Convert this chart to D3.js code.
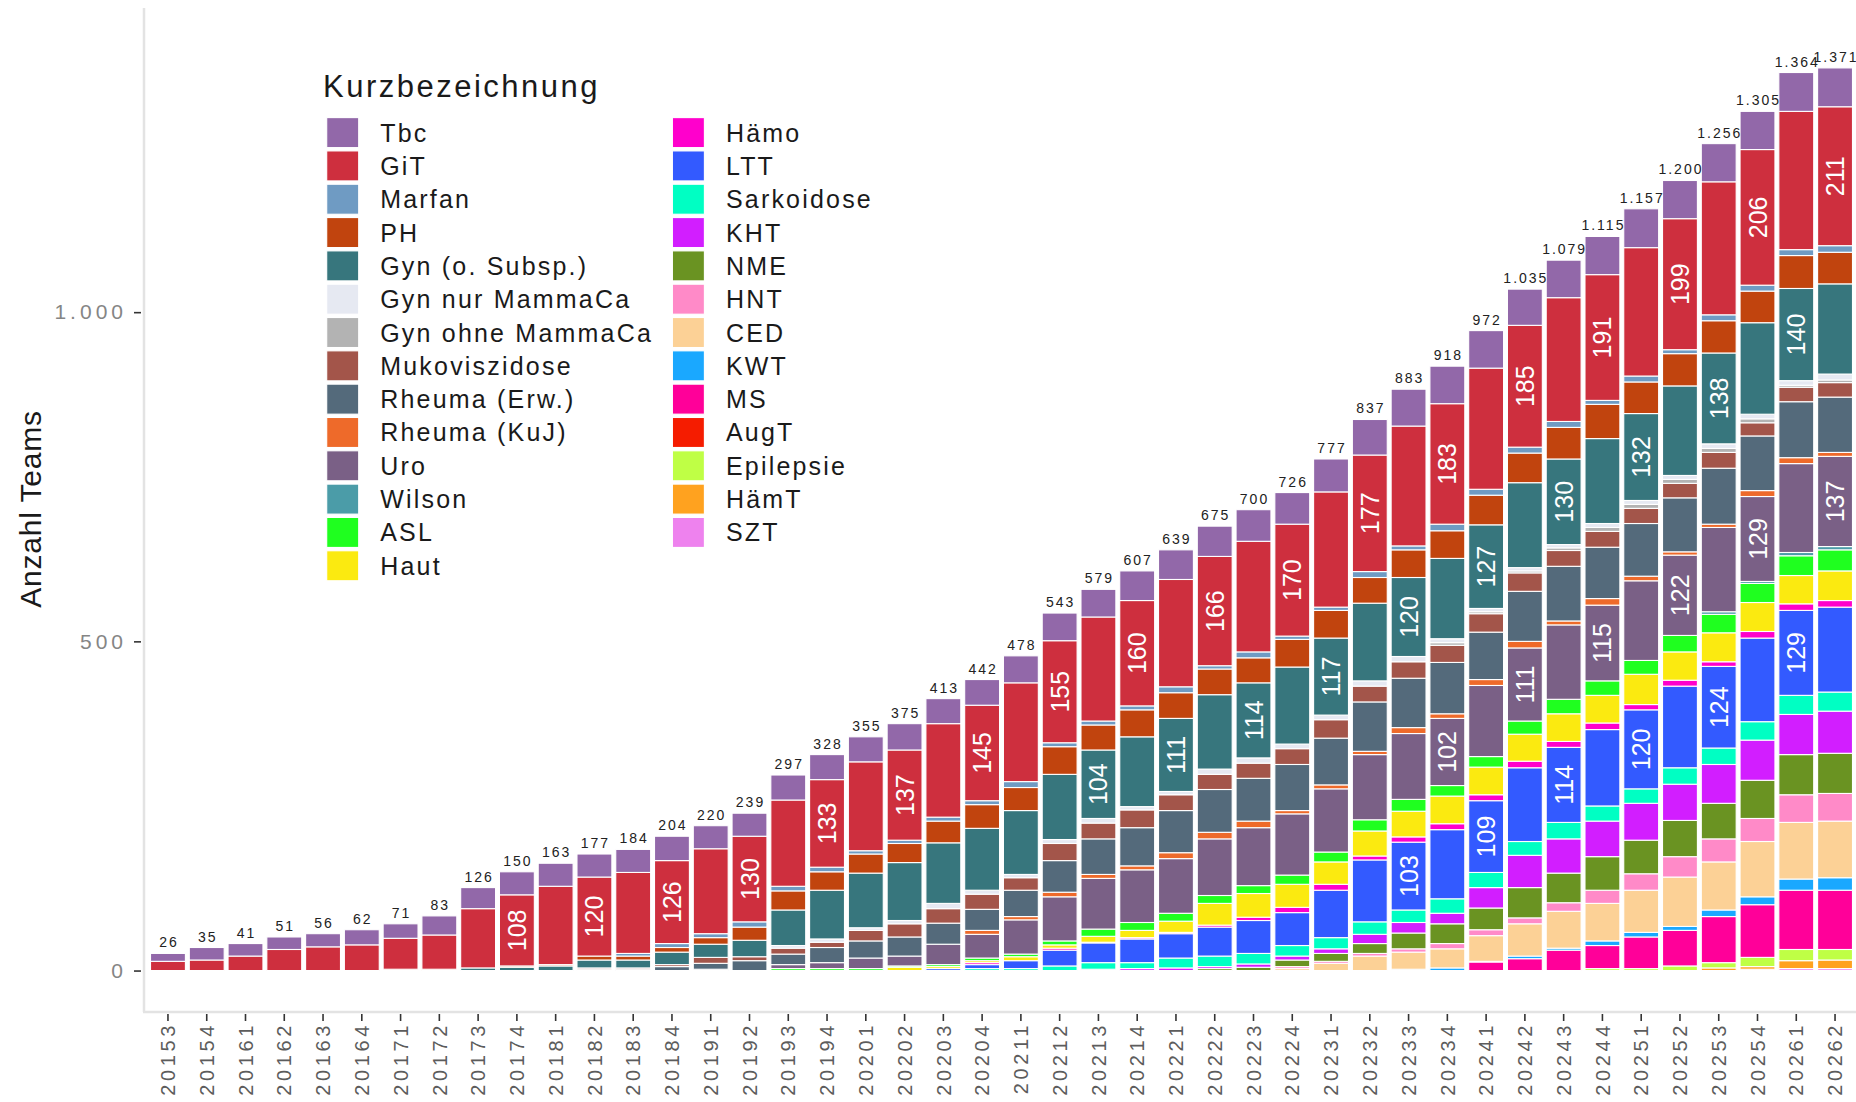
<!DOCTYPE html>
<html>
<head>
<meta charset="utf-8">
<script src="https://cdn.jsdelivr.net/npm/d3@7"></script>
<style>
  body { margin: 0; background: #fff; }
  text { font-family: 'Liberation Sans', Arial, sans-serif; }
</style>
</head>
<body>
<div id="chart"></div>
<script>
const quarters = ['20153', '20154', '20161', '20162', '20163', '20164', '20171', '20172', '20173', '20174',
  '20181', '20182', '20183', '20184', '20191', '20192', '20193', '20194', '20201', '20202', '20203', '20204',
  '20211', '20212', '20213', '20214', '20221', '20222', '20223', '20224', '20231', '20232', '20233', '20234',
  '20241', '20242', '20243', '20244', '20251', '20252', '20253', '20254', '20261', '20262']

const z = n => new Array(n).fill(0)

const tbc = [12, 19, 19, 19, 20, 23, 22, 29, 32, 35, 35, 35, 35, 37, 35, 35, 38, 38, 38, 40, 38, 39, 41, 42, 42, 45, 45, 46, 48, 48, 50, 54, 56, 57, 57, 55, 57, 58, 59, 58, 58, 58, 59, 59]
const git = [14, 16, 22, 32, 36, 39, 47, 52, 90, 108, 119, 120, 123, 126, 129, 130, 131, 133, 135, 137, 142, 145, 150, 155, 158, 160, 163, 166, 168, 170, 175, 177, 182, 183, 184, 185, 188, 191, 195, 199, 202, 206, 210, 211]
const marfan = [0, 0, 0, 0, 0, 0, 0, 0, 0, 0, 0, 0, 4, 6, 6, 8, 7, 7, 5, 5, 6, 6, 9, 6, 6, 6, 9, 5, 9, 5, 5, 9, 6, 10, 9, 9, 9, 6, 9, 6, 9, 9, 9, 10]
const ph = [0, 0, 0, 0, 0, 0, 2, 2, 0, 2, 2, 6, 6, 7, 10, 20, 29, 28, 29, 29, 33, 36, 35, 42, 38, 41, 39, 39, 38, 42, 42, 39, 42, 42, 45, 45, 48, 52, 48, 49, 49, 48, 50, 48]
const gyn = [0, 0, 0, 0, 0, 0, 0, 0, 4, 5, 7, 12, 12, 19, 20, 25, 54, 74, 83, 88, 92, 94, 97, 99, 104, 106, 111, 113, 114, 117, 117, 118, 120, 122, 127, 129, 130, 129, 132, 136, 138, 139, 140, 137]
const gynNur = z(16).concat([4, 5, 4, 5, 8, 6, 5, 6, 7, 5, 5, 8, 8, 7, 7, 8, 8, 6, 5, 5, 5, 6, 6, 6, 7, 7, 7, 9])
const gynOhne = z(33).concat([4, 3, 3, 4, 6, 6, 6, 6, 6, 3, 4])
const muko = z(11).concat([2, 2, 3, 9, 6, 9, 8, 16, 20, 22, 23, 19, 26, 24, 27, 24, 23, 23, 24, 28, 24, 25, 26, 28, 28, 24, 24, 23, 22, 24, 20, 22, 22])
const rheumaErw = z(11).concat([2, 2, 6, 9, 15, 16, 23, 26, 29, 32, 32, 40, 48, 54, 58, 64, 65, 65, 70, 71, 75, 75, 78, 72, 76, 83, 78, 80, 82, 85, 83, 85, 84])
const rheumaKuJ = z(21).concat([6, 5, 7, 6, 6, 9, 10, 10, 5, 6, 5, 9, 7, 9, 10, 6, 10, 7, 5, 5, 9, 9, 6])
const uro = z(14).concat([2, 0, 6, 9, 16, 15, 31, 36, 52, 67, 77, 80, 83, 86, 88, 93, 96, 99, 100, 102, 108, 111, 113, 115, 121, 122, 128, 129, 135, 137])
const wilson = z(40).concat([4, 3, 5, 5])
const asl = z(16).concat([3, 3, 3, 2, 3, 4, 4, 6, 11, 12, 12, 12, 12, 14, 15, 17, 18, 16, 16, 20, 22, 22, 21, 25, 28, 29, 30, 32])
const haut = z(19).concat([5, 3, 3, 6, 5, 9, 11, 17, 33, 36, 35, 34, 38, 39, 42, 42, 41, 42, 42, 46, 43, 44, 44, 43, 45])
const haemo = z(21).concat([3, 0, 3, 1, 2, 2, 3, 5, 8, 9, 6, 8, 9, 9, 10, 9, 10, 8, 9, 7, 10, 10, 10])
const ltt = z(20).concat([3, 6, 12, 24, 30, 36, 37, 44, 50, 50, 72, 94, 103, 105, 109, 112, 114, 116, 120, 124, 124, 127, 129, 129])
const sarkoidose = z(21).concat([3, 3, 7, 10, 9, 15, 16, 16, 16, 17, 19, 19, 22, 23, 21, 25, 23, 22, 25, 25, 28, 29, 29])
const kht = z(24).concat([2, 3, 4, 3, 5, 6, 7, 14, 16, 16, 31, 49, 52, 54, 56, 55, 59, 61, 61, 64])
const nme = z(27).concat([3, 5, 10, 12, 15, 24, 30, 33, 46, 45, 51, 51, 55, 54, 58, 61, 61])
const hnt = z(29).concat([3, 3, 4, 5, 8, 9, 9, 13, 20, 25, 31, 35, 35, 42, 42])
const ced = z(29).concat([3, 11, 22, 26, 29, 39, 49, 56, 57, 64, 75, 73, 84, 86, 86])
const kwt = z(32).concat([2, 4, 1, 4, 3, 7, 7, 6, 10, 12, 17, 19])
const ms = z(34).concat([13, 18, 31, 35, 48, 54, 70, 80, 90, 90])
const augt = z(44)
const epilepsie = z(37).concat([3, 3, 7, 8, 14, 17, 16])
const haemt = z(40).concat([4, 4, 12, 13])
const szt = z(41).concat([2, 3, 3])

const seriesNames = ['Tbc', 'GiT', 'Marfan', 'PH', 'Gyn (o. Subsp.)', 'Gyn nur MammaCa', 'Gyn ohne MammaCa',
  'Mukoviszidose', 'Rheuma (Erw.)', 'Rheuma (KuJ)', 'Uro', 'Wilson', 'ASL', 'Haut', 'Hämo', 'LTT',
  'Sarkoidose', 'KHT', 'NME', 'HNT', 'CED', 'KWT', 'MS', 'AugT', 'Epilepsie', 'HämT', 'SZT']
const seriesValues = [tbc, git, marfan, ph, gyn, gynNur, gynOhne, muko, rheumaErw, rheumaKuJ, uro, wilson,
  asl, haut, haemo, ltt, sarkoidose, kht, nme, hnt, ced, kwt, ms, augt, epilepsie, haemt, szt]
const seriesColors = ['#9268a9', '#ce2f3e', '#6f9bc3', '#c1440e', '#37767d', '#e6e9f2', '#b3b3b3',
  '#a3554a', '#546a7b', '#ee6a2a', '#7a6086', '#4b9ca8', '#1fff1f', '#fbea10', '#ff00cc', '#335aff',
  '#00ffc3', '#d21eff', '#6a9322', '#ff8ac8', '#fcd196', '#1aa8ff', '#ff0099', '#f51c00', '#bfff45',
  '#ffa21f', '#ee82ee']

// values >= 100 of these series are printed inside the bar, alternating by quarter
const labelEvenQuarter = ['GiT', 'Uro']
const labelOddQuarter = ['Gyn (o. Subsp.)', 'LTT']
const yTicks = [0, 500, 1000]

const width = 1856
const height = 1102

const de = d3.formatLocale({ decimal: ',', thousands: '.', grouping: [3], currency: ['', ''] })
const fmt = de.format(',d')

const table = quarters.map((q, i) => {
  const row = { quarter: q }
  seriesNames.forEach((s, j) => { row[s] = seriesValues[j][i] })
  row.total = d3.sum(seriesValues, v => v[i])
  return row
})

const color = d3.scaleOrdinal().domain(seriesNames).range(seriesColors)

const x = d3
  .scaleBand()
  .domain(quarters)
  .range([144.7, 1858.3])
  .paddingInner(0.1)
  .paddingOuter(0.15)

const y = d3
  .scaleLinear()
  .domain([-66, 1462])
  .range([1014, 8])

const svg = d3
  .select('#chart')
  .append('svg')
  .attr('width', width)
  .attr('height', height)

// ggplot stacks the first level on top
const stacked = d3.stack().keys(seriesNames.slice().reverse())(table)

svg
  .append('g')
  .selectAll('g')
  .data(stacked)
  .enter()
  .append('g')
  .attr('fill', d => color(d.key))
  .selectAll('rect')
  .data(d => d.map(p => ({ key: d.key, p: p })))
  .enter()
  .filter(d => d.p[1] > d.p[0])
  .append('rect')
  .attr('x', d => x(d.p.data.quarter))
  .attr('width', x.bandwidth())
  .attr('y', d => y(d.p[1]))
  .attr('height', d => y(d.p[0]) - y(d.p[1]))
  .attr('stroke', '#fff')
  .attr('stroke-width', 1.1)

// labels inside the bars
const inner = []
stacked.forEach(layer => {
  layer.forEach(p => {
    const q = +p.data.quarter.slice(-1)
    const v = p[1] - p[0]
    const even = q % 2 === 0
    if (v >= 100 && ((even && labelEvenQuarter.includes(layer.key)) || (!even && labelOddQuarter.includes(layer.key)))) {
      inner.push({ quarter: p.data.quarter, mid: (p[0] + p[1]) / 2, v: v })
    }
  })
})

svg
  .append('g')
  .selectAll('text')
  .data(inner)
  .enter()
  .append('text')
  .attr('transform', d => 'translate(' + (x(d.quarter) + x.bandwidth() / 2) + ',' + y(d.mid) + ') rotate(-90)')
  .attr('text-anchor', 'middle')
  .attr('dy', '0.36em')
  .attr('fill', '#fff')
  .style('font-size', '25px')
  .text(d => d.v)

// totals on top
svg
  .append('g')
  .selectAll('text')
  .data(table)
  .enter()
  .append('text')
  .attr('x', d => x(d.quarter) + x.bandwidth() / 2 + 1)
  .attr('y', d => y(d.total) - 6)
  .attr('text-anchor', 'middle')
  .attr('fill', '#222')
  .style('font-size', '14px')
  .style('letter-spacing', '2px')
  .text(d => fmt(d.total))

// panel lines
svg
  .append('line')
  .attr('x1', 144).attr('x2', 144)
  .attr('y1', 8).attr('y2', 1012)
  .attr('stroke', '#e3e3e3')
  .attr('stroke-width', 2.5)
svg
  .append('line')
  .attr('x1', 143).attr('x2', 1856)
  .attr('y1', 1012).attr('y2', 1012)
  .attr('stroke', '#e3e3e3')
  .attr('stroke-width', 2.5)

const yAxis = d3
  .axisLeft(y)
  .tickValues(yTicks)
  .tickFormat(fmt)
  .tickSize(7)
  .tickPadding(7)
const yg = svg
  .append('g')
  .attr('transform', 'translate(141,0)')
  .call(yAxis)
yg.select('.domain').remove()
yg.selectAll('line').attr('stroke', '#333').attr('stroke-width', 1.6)
yg.selectAll('text')
  .attr('fill', '#858585')
  .style('font-size', '21px')
  .style('letter-spacing', '4px')
  .style('font-family', "'Liberation Sans', Arial, sans-serif")

const xAxis = d3
  .axisBottom(x)
  .tickSize(7)
const xg = svg
  .append('g')
  .attr('transform', 'translate(0,1014)')
  .call(xAxis)
xg.select('.domain').remove()
xg.selectAll('line').attr('stroke', '#333').attr('stroke-width', 1.6)
xg.selectAll('text')
  .attr('transform', 'rotate(-90)')
  .attr('x', -8)
  .attr('y', 0)
  .attr('dy', '0.36em')
  .attr('text-anchor', 'end')
  .attr('fill', '#5c5c5c')
  .style('font-size', '20px')
  .style('letter-spacing', '3.6px')
  .style('font-family', "'Liberation Sans', Arial, sans-serif")

svg
  .append('text')
  .attr('transform', 'translate(30,509) rotate(-90)')
  .attr('text-anchor', 'middle')
  .attr('dy', '0.36em')
  .attr('fill', '#1a1a1a')
  .style('font-size', '30px')
  .style('letter-spacing', '0.8px')
  .text('Anzahl Teams')

// legend
const legend = svg.append('g')
legend
  .append('text')
  .attr('x', 323)
  .attr('y', 97)
  .attr('fill', '#1a1a1a')
  .style('font-size', '31px')
  .style('letter-spacing', '2.5px')
  .text('Kurzbezeichnung')

const items = legend
  .selectAll('.item')
  .data(seriesNames)
  .enter()
  .append('g')
  .attr('class', 'item')
  .attr('transform', (d, i) => {
    const col = i < 14 ? 0 : 1
    const row = i < 14 ? i : i - 14
    return 'translate(' + (col === 0 ? 326.7 : 672.4) + ',' + (132.6 + row * 33.32) + ')'
  })
items
  .append('rect')
  .attr('x', 0)
  .attr('y', -15)
  .attr('width', 32)
  .attr('height', 30)
  .attr('fill', d => color(d))
  .attr('stroke', '#fff')
  .attr('stroke-width', 1.1)
items
  .append('text')
  .attr('x', 53.5)
  .attr('y', 0)
  .attr('dy', '0.36em')
  .attr('fill', '#1a1a1a')
  .style('font-size', '25px')
  .style('letter-spacing', '2.2px')
  .text(d => d)
</script>
</body>
</html>
